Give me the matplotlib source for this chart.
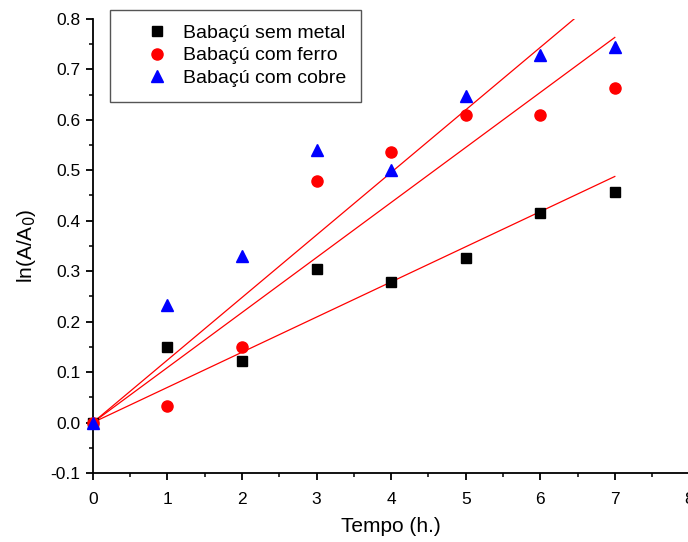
import numpy as np
import matplotlib
matplotlib.use('Agg')  # headless backend
import matplotlib.pyplot as plt
from matplotlib.ticker import MultipleLocator

plt.rcParams['font.family'] = ['Liberation Sans', 'DejaVu Sans']

tempo = [0, 1, 2, 3, 4, 5, 6, 7]
sem_metal = [0.0, 0.150, 0.122, 0.304, 0.279, 0.327, 0.416, 0.457]
com_ferro = [0.0, 0.033, 0.150, 0.479, 0.537, 0.610, 0.610, 0.662]
com_cobre = [0.0, 0.233, 0.330, 0.540, 0.501, 0.648, 0.729, 0.745]
labels = ["Babaçú sem metal", "Babaçú com ferro", "Babaçú com cobre"]

fig = plt.figure(figsize=(6.88, 5.42), dpi=100)
ax = fig.add_axes([0.135, 0.1273, 0.867, 0.838])

x = np.array(tempo, dtype=float)
series = [(sem_metal, "s", "black", 7),
          (com_ferro, "o", "red", 8),
          (com_cobre, "^", "blue", 9)]
for (vals, mk, col, ms), lab in zip(series, labels):
    ax.plot(x, vals, linestyle="none", marker=mk, color=col, markersize=ms,
            label=lab, clip_on=False, zorder=3)

# linear fits through the origin
xf = np.array([0, 7.0])
for vals, _, _, _ in series:
    y = np.array(vals)
    k = np.sum(x * y) / np.sum(x * x)
    ax.plot(xf, k * xf, color="red", linewidth=0.9, zorder=2)

ax.set_xlim(0, 8)
ax.set_ylim(-0.1, 0.8)
ax.xaxis.set_major_locator(MultipleLocator(1))
ax.xaxis.set_minor_locator(MultipleLocator(0.5))
ax.yaxis.set_major_locator(MultipleLocator(0.1))
ax.yaxis.set_minor_locator(MultipleLocator(0.05))
ax.yaxis.set_major_formatter(matplotlib.ticker.FormatStrFormatter('%.1f'))
ax.spines['top'].set_visible(False)
ax.spines['right'].set_visible(False)
for s in ('left', 'bottom'):
    ax.spines[s].set_linewidth(1.3)
ax.tick_params(which='major', direction='out', length=5, width=1.3, labelsize=12.5, pad=4)
ax.tick_params(axis='x', which='major', pad=9)
ax.tick_params(which='minor', direction='out', length=3, width=1.1)

ax.set_xlabel("Tempo (h.)", fontsize=15, labelpad=7)
ax.set_ylabel("ln(A/A$_0$)", fontsize=15, labelpad=9)

leg = ax.legend(loc='upper left', bbox_to_anchor=(0.0285, 1.0198), fontsize=14,
                fancybox=False, edgecolor='#555555', framealpha=1,
                borderpad=0.75, labelspacing=0.25, handletextpad=-0.3,
                borderaxespad=0, handlelength=3.3)
leg.get_frame().set_linewidth(1.0)

plt.savefig("out.png", dpi=100)
plt.close(fig)
